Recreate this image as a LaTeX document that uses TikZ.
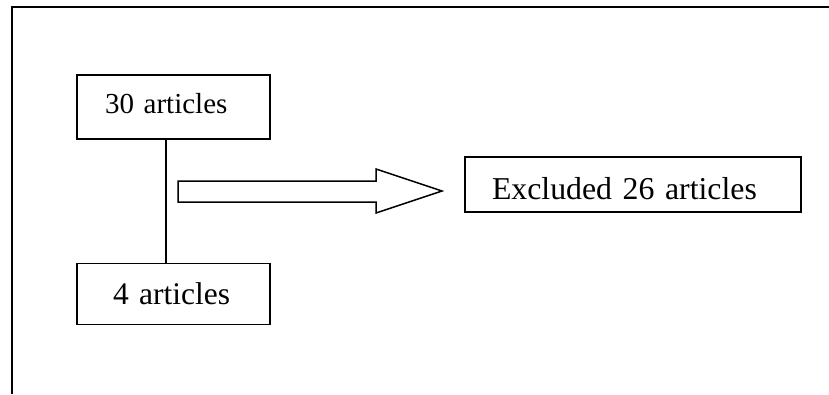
\documentclass[tikz,border=0pt]{standalone}
\usepackage{fontspec}
\setmainfont{Liberation Serif}
\usetikzlibrary{positioning}
\tikzset{
  artbox/.style={draw, line width=1.5pt, align=left, inner ysep=0pt, minimum height=64pt},
}
\begin{document}
\begin{tikzpicture}[x=1pt, y=-1pt, line width=1.5pt]
\useasboundingbox (0,0) rectangle (829,394);
%frame
\draw (12,394) -- (12,7) -- (829,7);
%nodes
\node[artbox, text width=137pt, inner xsep=28pt, text height=20pt, text depth=8pt, font=\fontsize{29}{34}\selectfont] (thirty) at (173.5,107) {30 articles};
\node[artbox, below=123pt of thirty, text width=121pt, inner xsep=36pt, minimum height=61pt, font=\fontsize{31.5}{36}\selectfont] (four) {4 articles};
\node[artbox, text width=282pt, inner xsep=27pt, minimum height=55pt, text height=29pt, text depth=0pt, font=\fontsize{31.8}{36}\selectfont] (excluded) at (633,184.5) {Excluded 26 articles};
%links
\draw ([xshift=-7.5pt]thirty.south) -- ([xshift=-7.5pt]four.north);
\draw (178,181) -- (376,181) -- (376,169) -- (442,191) -- (376,213) -- (376,202) -- (178,202) -- cycle;
\end{tikzpicture}
\end{document}
